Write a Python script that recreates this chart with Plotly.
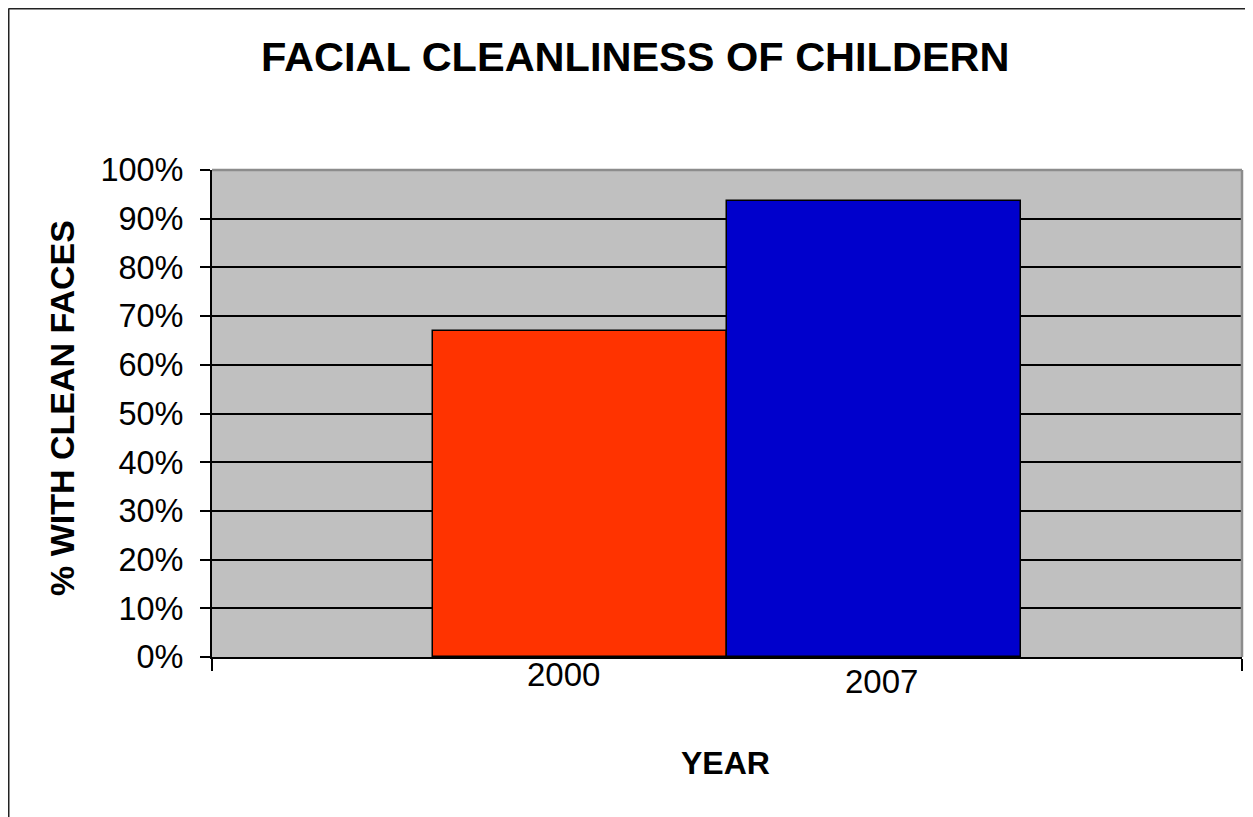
import plotly.graph_objects as go

years = ["2000", "2007"]
values = [0.67, 0.936]
colors = ["#FF3300", "#0000CC"]
y_ticks = [0, 0.1, 0.2, 0.3, 0.4, 0.5, 0.6, 0.7, 0.8, 0.9, 1.0]
y_tick_labels = ["0%", "10%", "20%", "30%", "40%", "50%", "60%", "70%", "80%", "90%", "100%"]

OFF = 8  # page body margin offset
W, H = 1253 - OFF, 817 - OFF
L, R, T, B = 212 - OFF, 1242 - OFF, 170 - OFF, 657 - OFF

def px_x(px):
    return (px - OFF - L) / (R - L)

def px_y(py):
    return (B - (py - OFF)) / (B - T)

x_pos = [0, 1]
x_range = [-1.249, 2.249]

fig = go.Figure()
fig.add_trace(go.Bar(
    x=x_pos, y=values, width=[1, 1],
    marker=dict(color=colors, line=dict(color="black", width=1.5)),
    showlegend=False, hoverinfo="skip",
))

font_family = "Liberation Sans, Arial, sans-serif"

fig.update_layout(
    width=W, height=H,
    margin=dict(l=L, r=W - R, t=T, b=H - B),
    paper_bgcolor="white",
    plot_bgcolor="#C0C0C0",
    font=dict(family=font_family, color="black", size=32),
    xaxis=dict(
        range=x_range, tickvals=x_range, ticktext=["", ""],
        ticks="outside", ticklen=12, tickwidth=1.5, tickcolor="black",
        showgrid=False, zeroline=False,
        showline=True, linecolor="black", linewidth=2,
    ),
    yaxis=dict(
        range=[0, 1], tickvals=y_ticks, ticktext=y_tick_labels,
        ticks="outside", ticklen=10, tickwidth=1.5, tickcolor="black",
        showgrid=True, gridcolor="black", gridwidth=1.5,
        zeroline=False, showline=True, linecolor="black", linewidth=2,
        ticklabelstandoff=10,
        tickfont=dict(size=32.5),
    ),
    bargap=0,
)

# plot-area border (top and right, gray)
fig.add_shape(type="line", xref="paper", yref="paper", x0=0, x1=1, y0=1, y1=1,
              line=dict(color="#8C8C8C", width=2.5), layer="above")
fig.add_shape(type="line", xref="paper", yref="paper", x0=1, x1=1, y0=0, y1=1,
              line=dict(color="#8C8C8C", width=2.5), layer="above")

# chart outer border (left and top visible)
fig.add_shape(type="line", xref="paper", yref="paper",
              x0=px_x(8.5), x1=px_x(8.5), y0=px_y(830), y1=px_y(8.5),
              line=dict(color="#222222", width=2), layer="above")
fig.add_shape(type="line", xref="paper", yref="paper",
              x0=px_x(8.5), x1=px_x(1270), y0=px_y(8.5), y1=px_y(8.5),
              line=dict(color="#222222", width=2), layer="above")

# category labels
label_x = [-0.056, 1.026]
label_py = [674, 681]
for lx, ly, txt in zip(label_x, label_py, years):
    fig.add_annotation(x=lx, xref="x", y=px_y(ly), yref="paper", text=txt,
                       showarrow=False, xanchor="center", yanchor="middle",
                       font=dict(size=33, family=font_family, color="black"))

# title
fig.add_annotation(x=px_x(635), y=px_y(57), xref="paper", yref="paper",
                   text="<b>FACIAL CLEANLINESS OF CHILDERN</b>", showarrow=False,
                   xanchor="center", yanchor="middle",
                   font=dict(size=41.5, family=font_family, color="black"))
# axis titles
fig.add_annotation(x=px_x(62), y=px_y(408), xref="paper", yref="paper",
                   text="<b>% WITH CLEAN FACES</b>", showarrow=False, textangle=-90,
                   xanchor="center", yanchor="middle",
                   font=dict(size=34, family=font_family, color="black"))
fig.add_annotation(x=px_x(725), y=px_y(763), xref="paper", yref="paper",
                   text="<b>YEAR</b>", showarrow=False,
                   xanchor="center", yanchor="middle",
                   font=dict(size=32, family=font_family, color="black"))

fig.write_html("out.html")
